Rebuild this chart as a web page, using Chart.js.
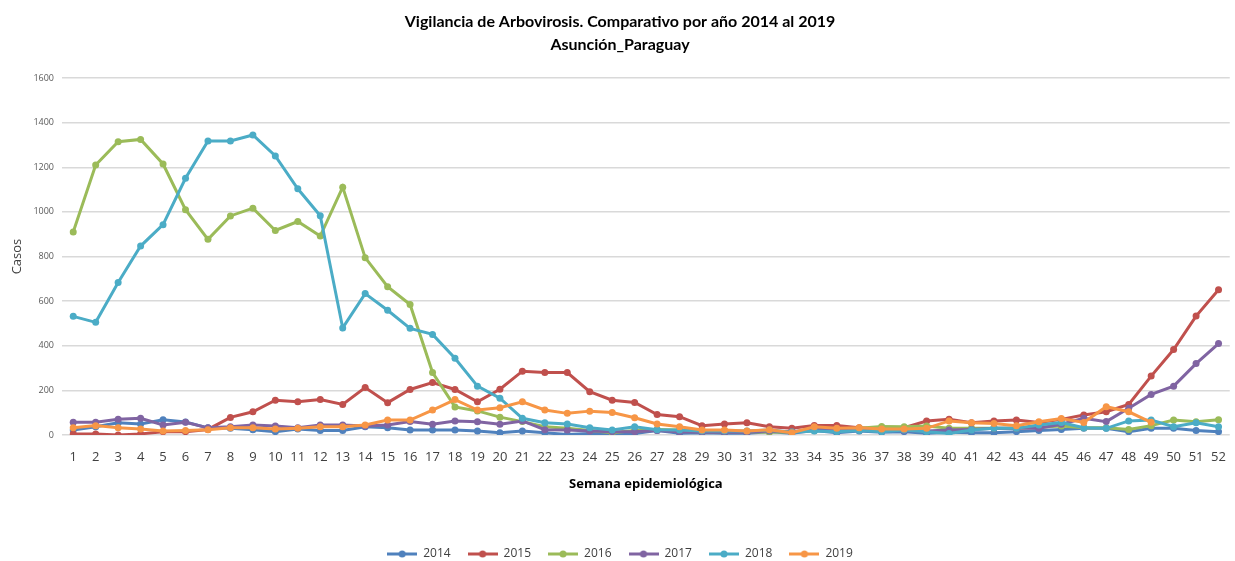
<!DOCTYPE html>
<html>
<head>
<meta charset="utf-8">
<script src="https://cdn.jsdelivr.net/npm/chart.js@4.4.1/dist/chart.umd.min.js"></script>
<style>
html,body{margin:0;padding:0;background:#fff;overflow:hidden;}
#wrap{width:1240px;height:561px;position:relative;}
</style>
</head>
<body>
<div id="wrap"><canvas id="c"></canvas></div>
<script>
const weeks = Array.from({length:52},(_,i)=>String(i+1));
const yTicks = [0,200,400,600,800,1000,1200,1400,1600];
const seriesNames = ['2014','2015','2016','2017','2018','2019'];
const colors = ['#4F81BD','#C0504D','#9BBB59','#8064A2','#4BACC6','#F79646'];

const y2014 = [22,37,55,49,68,58,32,30,24,15,27,20,20,37,32,22,22,22,18,10,18,10,2,7,5,7,20,8,10,8,8,15,8,20,10,18,12,15,8,12,10,10,15,20,25,30,30,15,30,30,20,15];
const y2015 = [5,5,0,5,15,15,25,79,104,156,149,159,137,213,145,204,235,204,149,205,286,280,280,194,156,146,92,82,42,49,55,37,30,43,43,33,27,33,63,71,55,63,67,56,70,90,104,137,264,383,533,651];
const y2016 = [910,1210,1315,1325,1215,1010,877,982,1017,917,957,892,1111,795,665,585,280,126,108,80,60,37,30,20,10,20,25,22,15,15,15,12,15,20,22,30,38,37,40,30,30,30,30,35,40,33,33,25,42,67,59,68];
const y2017 = [57,57,71,75,45,57,32,37,45,40,32,45,45,40,45,60,48,63,59,48,63,24,22,18,15,15,20,15,12,12,12,18,15,25,25,25,20,20,18,22,25,30,30,30,48,75,60,120,182,219,320,410];
const y2018 = [532,505,684,847,943,1151,1318,1318,1345,1251,1104,983,480,634,559,478,451,344,219,165,75,55,49,33,22,37,24,22,18,18,18,22,12,18,15,20,15,22,15,7,22,30,30,45,56,33,30,63,67,37,55,37];
const y2019 = [33,42,33,27,18,20,24,33,33,27,30,37,37,45,67,67,112,159,112,122,149,112,97,107,101,77,49,37,22,22,18,24,10,37,30,33,27,27,30,63,55,52,42,59,74,56,127,104,57,null,null,null];
const seriesValues = [y2014,y2015,y2016,y2017,y2018,y2019];

function legendIcon(color){
  const cv = document.createElement('canvas');
  cv.width = 30; cv.height = 10;
  const g = cv.getContext('2d');
  g.strokeStyle = color; g.lineWidth = 3;
  g.beginPath(); g.moveTo(0,5); g.lineTo(30,5); g.stroke();
  g.fillStyle = color; g.beginPath(); g.arc(15,5,3.5,0,Math.PI*2); g.fill();
  return cv;
}

const datasets = seriesNames.map((n,i)=>({
  label:n,
  data:seriesValues[i],
  borderColor:colors[i],
  backgroundColor:colors[i],
  borderWidth:3,
  pointRadius:3.5,
  pointHoverRadius:3.5,
  pointBorderWidth:0,
  pointBackgroundColor:colors[i],
  pointStyle:'circle',
  tension:0,
  order:6-i,
  spanGaps:false,
  _icon:legendIcon(colors[i])
}));

new Chart(document.getElementById('c'),{
  type:'line',
  data:{labels:weeks,datasets},
  options:{
    responsive:true,
    maintainAspectRatio:false,
    animation:false,
    layout:{padding:{left:0,right:0,top:10,bottom:-9}},
    plugins:{
      title:{
        display:true,
        text:['Vigilancia de Arbovirosis. Comparativo por año 2014 al 2019','Asunción_Paraguay'],
        font:{family:"'Liberation Sans Narrow', Lato, sans-serif",size:16,weight:'bold',lineHeight:1.44},
        color:'#000',
        padding:{top:0,bottom:22}
      },
      legend:{
        position:'bottom',
        sort:(a,b)=>a.datasetIndex-b.datasetIndex,
        labels:{
          usePointStyle:true,
          pointStyleWidth:30,
          boxHeight:10,
          padding:17,
          color:'#404040',
          font:{family:"'Open Sans', sans-serif",size:12},
          generateLabels(chart){
            return chart.data.datasets.map((d,i)=>({
              text:d.label, fillStyle:d.borderColor, strokeStyle:d.borderColor,
              lineWidth:0, pointStyle:d._icon, datasetIndex:i, hidden:false, fontColor:'#404040'
            }));
          }
        }
      },
      tooltip:{enabled:false}
    },
    scales:{
      x:{
        offset:true,
        grid:{display:false,drawTicks:false},
        border:{display:false},
        ticks:{color:'#404040',font:{family:"'Open Sans', sans-serif",size:13},padding:14,maxRotation:0,autoSkip:false},
        title:{display:true,text:'Semana epidemiológica',color:'#000',
          font:{family:"'Open Sans', sans-serif",size:13,weight:'bold',lineHeight:0.8},padding:{top:0,bottom:42}}
      },
      y:{
        min:0,max:1600,
        afterFit(s){s.width=62;},
        afterBuildTicks(s){s.ticks = yTicks.map(v=>({value:v}));},
        grid:{color:'#D9D9D9',lineWidth:1.5,drawTicks:false},
        border:{display:false},
        ticks:{color:'#595959',font:{family:"'Open Sans', sans-serif",size:9},padding:8,callback:v=>String(v)},
        title:{display:true,text:'Casos',color:'#404040',font:{family:"'Open Sans', sans-serif",size:13},padding:{top:9,bottom:8}}
      }
    }
  }
});
</script>
</body>
</html>
